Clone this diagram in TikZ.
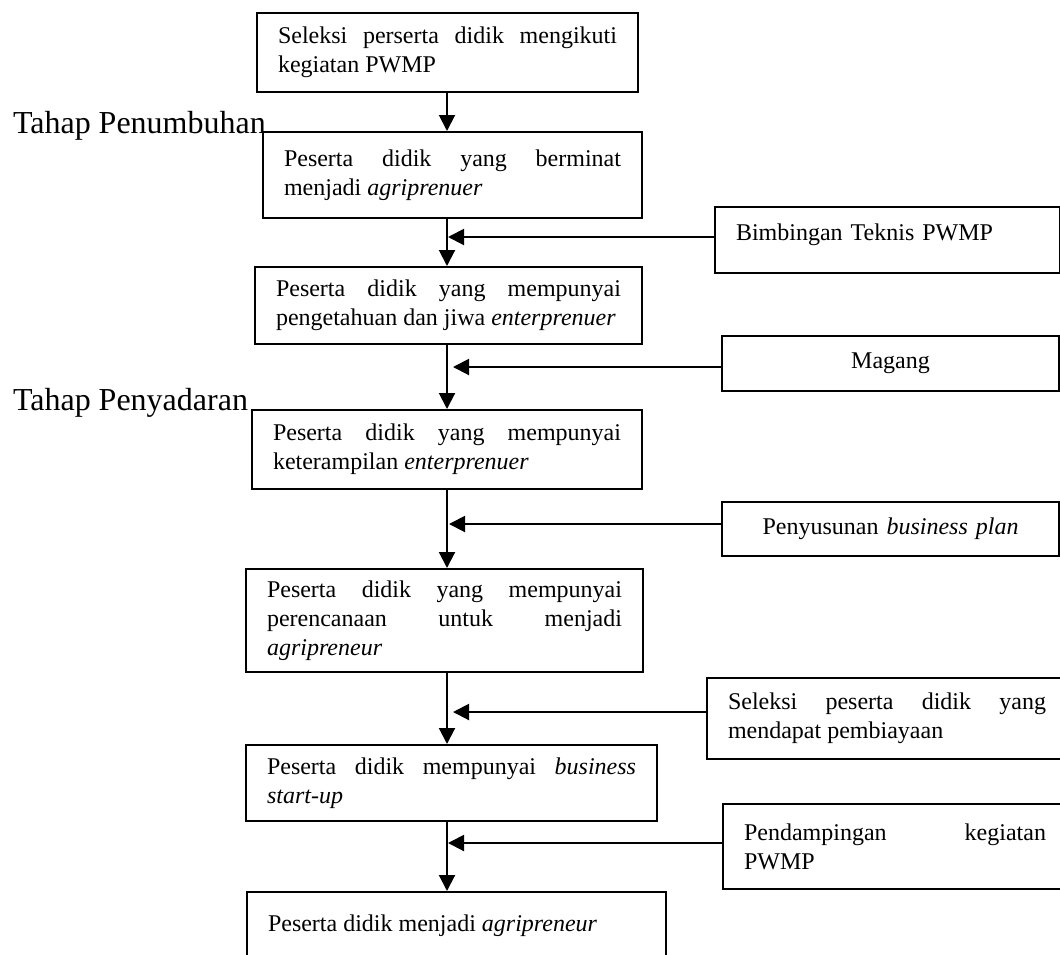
\documentclass[tikz,border=0pt]{standalone}
\usepackage{fontspec}
\setmainfont{Liberation Serif}
\usetikzlibrary{arrows.meta}
\hyphenpenalty=10000
\exhyphenpenalty=10000
\tolerance=10000

\begin{document}
\begin{tikzpicture}[x=0.5pt, y=-0.5pt, line width=1pt,
		>={Triangle[width=8pt,length=8pt]},
		box/.style={draw, rectangle, anchor=north west, align=justify, inner xsep=10.5pt, inner ysep=3pt, font=\fontsize{12}{14.5}\selectfont},
		stage/.style={anchor=base west, inner sep=0pt, font=\fontsize{16}{19}\selectfont}]
	\useasboundingbox (0,0) rectangle (1060,954);
	\coordinate (col) at (447,0);

	\node[box, text width=169.5pt, minimum height=39.5pt] (sel) at (256,12) {Seleksi perserta didik mengikuti\linebreak kegiatan PWMP};
	\node[box, text width=168.5pt, minimum height=43pt] (minat) at (262,131) {Peserta didik yang berminat\linebreak menjadi \textit{agriprenuer}};
	\node[box, text width=172.5pt, minimum height=38.5pt] (tahu) at (254,266) {Peserta didik yang mempunyai\linebreak pengetahuan dan jiwa \textit{enterprenuer}};
	\node[box, text width=174pt, minimum height=39.5pt] (trampil) at (251,409) {Peserta didik yang mempunyai\linebreak keterampilan \textit{enterprenuer}};
	\node[box, text width=177.5pt, minimum height=51.5pt] (rencana) at (245,568) {Peserta didik yang mempunyai\linebreak perencanaan untuk menjadi\linebreak \textit{agripreneur}};
	\node[box, text width=184.5pt, minimum height=38pt] (startup) at (245,744) {Peserta didik mempunyai \textit{business}\linebreak \textit{start-up}};
	\node[box, text width=188.5pt, minimum height=34pt] (agri) at (246,891) {Peserta didik menjadi \textit{agripreneur}};

	\node[box, align=left, text width=151.5pt, text depth=7.6pt, minimum height=33pt] (bimtek) at (714,206) {Bimbingan Teknis PWMP};
	\node[box, align=center, text width=147.5pt, minimum height=27.5pt] (magang) at (721,335) {Magang};
	\node[box, align=center, text width=147.5pt, minimum height=27pt] (bplan) at (721,501) {Penyusunan \textit{business plan}};
	\node[box, text width=159pt, minimum height=40.5pt] (biaya) at (706,677) {Seleksi peserta didik yang\linebreak mendapat pembiayaan};
	\node[box, text width=151pt, minimum height=42.5pt] (damping) at (722,803) {Pendampingan kegiatan\linebreak PWMP};

	\node[stage] (tumbuh) at (12,133) {Tahap Penumbuhan};
	\node[stage] (sadar) at (12,410) {Tahap Penyadaran};

	\coordinate (in1) at (448,237);
	\coordinate (in2) at (453,367);
	\coordinate (in3) at (449,524);
	\coordinate (in4) at (453,712);
	\coordinate (in5) at (448,843);

	\draw[->] (sel.south -| col) -- (minat.north -| col);
	\draw[->] (minat.south -| col) -- (tahu.north -| col);
	\draw[->] (tahu.south -| col) -- (trampil.north -| col);
	\draw[->] (trampil.south -| col) -- (rencana.north -| col);
	\draw[->] (rencana.south -| col) -- (startup.north -| col);
	\draw[->] (startup.south -| col) -- (agri.north -| col);

	\draw[->] (in1 -| bimtek.west) -- (in1);
	\draw[->] (in2 -| magang.west) -- (in2);
	\draw[->] (in3 -| bplan.west) -- (in3);
	\draw[->] (in4 -| biaya.west) -- (in4);
	\draw[->] (in5 -| damping.west) -- (in5);
\end{tikzpicture}
\end{document}
